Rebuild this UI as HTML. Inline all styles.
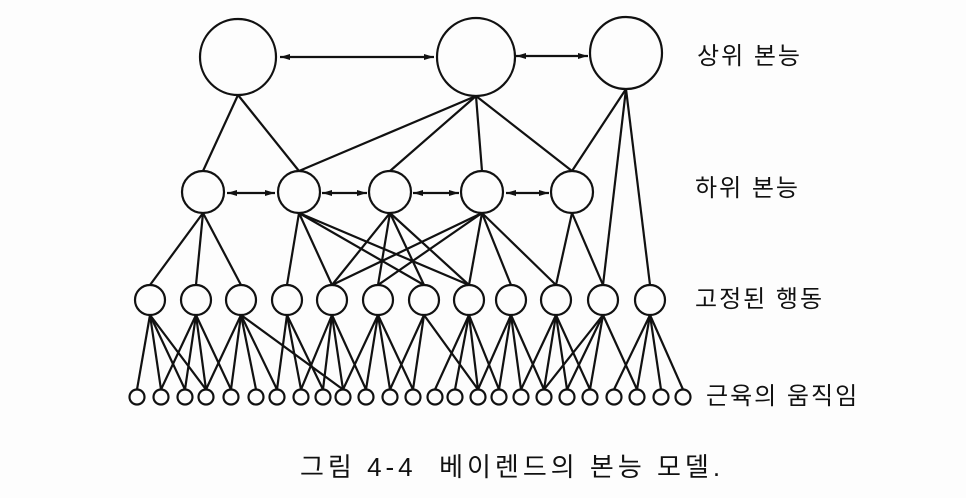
<!DOCTYPE html>
<html><head><meta charset="utf-8"><style>
html,body{margin:0;padding:0;background:#fdfdfd;}
svg{display:block;}
text{font-family:"Liberation Sans","Noto Sans CJK KR","NanumGothic",sans-serif;fill:#111;}
</style></head><body>
<svg width="966" height="498" viewBox="0 0 966 498" xmlns="http://www.w3.org/2000/svg">
<defs>
<marker id="a" viewBox="0 0 10 6" refX="10" refY="3" markerWidth="10" markerHeight="6" orient="auto-start-reverse" markerUnits="userSpaceOnUse"><path d="M0,0 L10,3 L0,6 z" fill="#111"/></marker>
</defs>
<g stroke="#111" stroke-width="2.2" fill="none" id="lines"></g>
<g stroke="#111" stroke-width="2.2" fill="#fdfdfd" id="circ"></g>
<g stroke="#111" stroke-width="2.2">
<line x1="280" y1="57" x2="434" y2="57" marker-start="url(#a)" marker-end="url(#a)"/>
<line x1="516" y1="56" x2="588" y2="56" marker-start="url(#a)" marker-end="url(#a)"/>
<line x1="227" y1="193" x2="275" y2="193" marker-start="url(#a)" marker-end="url(#a)"/>
<line x1="322" y1="193" x2="367" y2="193" marker-start="url(#a)" marker-end="url(#a)"/>
<line x1="413" y1="193" x2="459" y2="193" marker-start="url(#a)" marker-end="url(#a)"/>
<line x1="506" y1="193" x2="549" y2="193" marker-start="url(#a)" marker-end="url(#a)"/>
</g>
<g font-size="24" letter-spacing="2">
<text x="697" y="64">상위 본능</text>
<text x="695" y="196">하위 본능</text>
<text x="695" y="307">고정된 행동</text>
<text x="706" y="404">근육의 움직임</text>
</g>
<text x="300" y="476" font-size="26" letter-spacing="4" xml:space="preserve">그림 4-4  베이렌드의 본능 모델.</text>
<script>
var NS="http://www.w3.org/2000/svg";
var top_=[[238,57,38],[476,57,39],[626,53,36]];
var mid=[203,299,390,482,572].map(function(x){return [x,192,21]});
var r3=[150,196,241,287,332,378,424,469,511,556,603,650].map(function(x){return [x,300,15]});
var bx=[137,161,185,206,231,256,277,301,323,343,366,390,413,435,455,478,499,521,544,567,590,614,637,661,683];
var bt=bx.map(function(x){return [x,397,7.5]});
var L=document.getElementById("lines"),C=document.getElementById("circ");
function ln(a,b){var l=document.createElementNS(NS,"line");l.setAttribute("x1",a[0]);l.setAttribute("y1",a[1]+a[2]);l.setAttribute("x2",b[0]);l.setAttribute("y2",b[1]-b[2]);L.appendChild(l);}
[[0,[0,1]],[1,[1,2,3,4]]].forEach(function(p){p[1].forEach(function(j){ln(top_[p[0]],mid[j]);});});
ln(top_[2],mid[4]);ln(top_[2],r3[10]);ln(top_[2],r3[11]);
var m2r=[[0,1,2],[3,4,6,7],[4,5,6,7],[4,5,7,8,9],[9,10]];
m2r.forEach(function(s,i){s.forEach(function(j){ln(mid[i],r3[j]);});});
var r2b=[[0,1,2,3],[1,2,3,4],[3,4,5,6,9],[6,7,8],[7,8,9,10],[9,10,11,12],[11,12,15],[13,14,15,16],[15,16,17,18],[17,18,19,20],[18,19,20,22],[21,22,23,24]];
r2b.forEach(function(s,i){s.forEach(function(j){ln(r3[i],bt[j]);});});
top_.concat(mid,r3,bt).forEach(function(c){var e=document.createElementNS(NS,"circle");e.setAttribute("cx",c[0]);e.setAttribute("cy",c[1]);e.setAttribute("r",c[2]);C.appendChild(e);});
</script>
</svg>
</body></html>
